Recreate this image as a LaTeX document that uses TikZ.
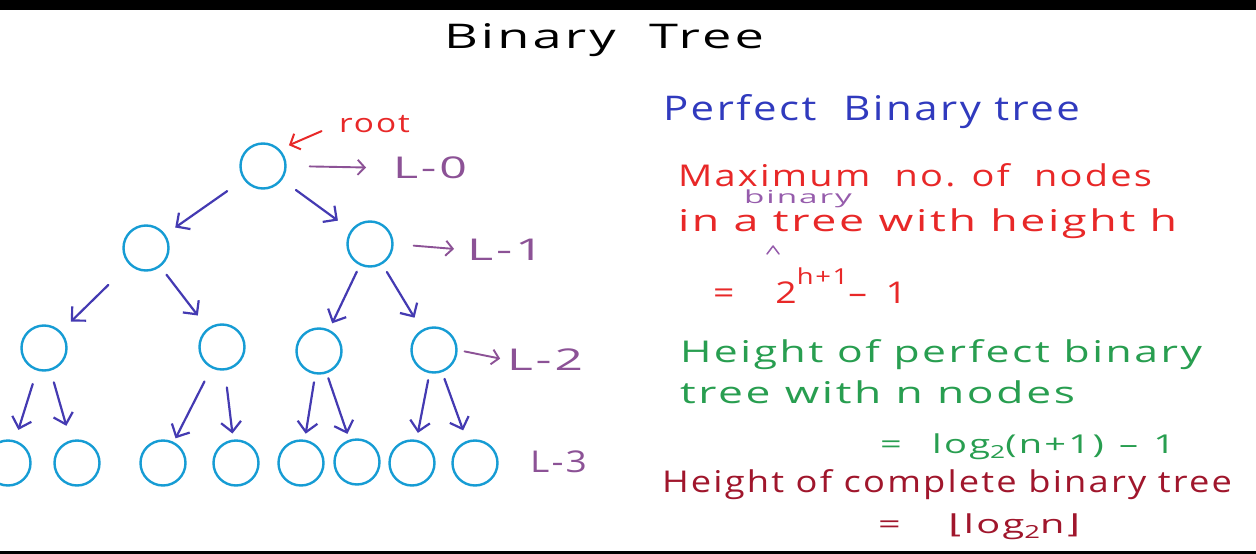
\documentclass[tikz,border=0pt]{standalone}
\usepackage{fontspec}
\setmainfont{Open Sans}[LetterSpace=6]
\newfontfamily\djv{DejaVu Sans}
\usepackage{graphicx}
\usetikzlibrary{arrows.meta}
\definecolor{treeblue}{RGB}{22,156,212}
\definecolor{edgecol}{RGB}{68,58,178}
\definecolor{lvlcol}{RGB}{140,82,150}
\definecolor{rootred}{RGB}{232,40,40}
\definecolor{pbtblue}{RGB}{48,58,190}
\definecolor{binpurple}{RGB}{150,92,172}
\definecolor{hgreen}{RGB}{40,158,80}
\definecolor{darkred}{RGB}{160,22,44}
\newsavebox\fitbox
\newcommand\fitw[2]{\sbox\fitbox{#2}\pgfmathsetmacro\fitratio{#1/\the\wd\fitbox}\scalebox{\fitratio}[1]{\usebox\fitbox}}
\newcommand\fsz[1]{\fontsize{#1}{#1}\selectfont}
\tikzset{
  tn/.style={circle, draw=treeblue, line width=2.4pt, minimum size=45pt, inner sep=0pt},
  treearrow/.style={draw=edgecol, line width=2.2pt, line cap=round, -{Straight Barb[length=10pt,width=20pt,line width=2.2pt]}},
  lvlarrow/.style={draw=lvlcol, line width=1.9pt, line cap=round, -{Straight Barb[length=7pt,width=15pt,line width=1.9pt]}},
  rootarrow/.style={draw=rootred, line width=2pt, line cap=round, -{Straight Barb[length=8pt,width=17pt,line width=2pt]}},
  txt/.style={anchor=base west, inner sep=0pt, outer sep=0pt},
  lvl/.style={anchor=west, inner sep=0pt, outer sep=0pt, text=lvlcol, font=\fsz{30}},
  sg/.style 2 args={shorten <=#1pt, shorten >=#2pt}
}
\begin{document}
\begin{tikzpicture}[x=1pt, y=-1pt]
\useasboundingbox (0,0) rectangle (1256,554);
\fill[white] (0,0) rectangle (1256,554);
\fill[black] (0,0) rectangle (1256,10);
\fill[black] (0,551) rectangle (1256,554);

% title
\node[txt, font=\fsz{34}] (title) at (444,48) {\fitw{320pt}{Binary~~Tree}};

% tree nodes
\node[tn] (r) at (263,166) {};
\node[tn] (a) at (146,248) {};
\node[tn] (b) at (370,244) {};
\node[tn] (c) at (44,348) {};
\node[tn] (d) at (222,347) {};
\node[tn] (e) at (319,351) {};
\node[tn] (f) at (434,350) {};
\node[tn] (g1) at (8,463) {};
\node[tn] (g2) at (77,463) {};
\node[tn] (g3) at (163,463) {};
\node[tn] (g4) at (236,463) {};
\node[tn] (g5) at (301,463) {};
\node[tn] (g6) at (357,462) {};
\node[tn] (g7) at (412,463) {};
\node[tn] (g8) at (475,463) {};

% tree edges
\draw[treearrow, sg={20}{12}] (r) -- (a);
\draw[treearrow, sg={17}{16}] (r) -- (b);
\draw[treearrow, sg={29}{14}] (a) -- (c);
\draw[treearrow, sg={10}{16}] (a) -- (d);
\draw[treearrow, sg={7}{7}] (b) -- (e);
\draw[treearrow, sg={9}{14}] (b) -- (f);
\draw[treearrow, sg={14}{11}] (c) -- (g1);
\draw[treearrow, sg={12}{15}] (c) -- (g2);
\draw[treearrow, sg={15}{4}] (d) -- (g3);
\draw[treearrow, sg={17}{6}] (d) -- (g4);
\draw[treearrow, sg={8}{6}] (e) -- (g5);
\draw[treearrow, sg={5}{6}] (e) -- (g6);
\draw[treearrow, sg={7}{7}] (f) -- (g7);
\draw[treearrow, sg={7}{11}] (f) -- (g8);

% root label
\node[txt, text=rootred, font=\fsz{26}] (rootlbl) at (339,132) {\fitw{71pt}{root}};
\draw[rootarrow, sg={19}{10}] (rootlbl.west) -- (r.45);

% level labels
\node[lvl] (l0) at (393,168) {\fitw{74pt}{L-0}};
\node[lvl] (l1) at (467,250) {\fitw{77pt}{L-1}};
\node[lvl] (l2) at (507,360) {\fitw{76pt}{L-2}};
\node[lvl] (l3) at (530,462) {\fitw{57pt}{L-3}};
\draw[lvlarrow, sg={23}{27}] (r.east) -- (l0.west);
\draw[lvlarrow, sg={20}{13}] (b.east) -- (l1.west);
\draw[lvlarrow, sg={7}{7}] (f.east) -- (l2.west);

% right side texts
\node[txt, text=pbtblue, font=\fsz{34}] (t1) at (663,120) {\fitw{417pt}{Perfect~ Binary tree}};
\node[txt, text=rootred, font=\fsz{30}] (t2) at (678,186) {\fitw{474pt}{Maximum~ no. of~ nodes}};
\node[txt, text=rootred, font=\fsz{30}] (t3) at (678,231) {\fitw{499pt}{in a tree with height h}};
\node[txt, text=binpurple, font=\fsz{18}] (t4) at (744,203) {\fitw{108pt}{binary}};
\draw[binpurple, line width=1.5pt, line cap=round, line join=round] (767,254) -- (773,246) -- (779,254);
\node[txt, text=rootred, font=\fsz{30}] (eq1) at (713,303)
  {\fitw{194pt}{=\hspace{1.1em}2\raisebox{19pt}{\fsz{22}h+1}–\hspace{0.5em}1}};

\node[txt, text=hgreen, font=\fsz{30}] (t6) at (680,362) {\fitw{522pt}{Height of perfect binary}};
\node[txt, text=hgreen, font=\fsz{30}] (t7) at (680,403) {\fitw{395pt}{tree with n nodes}};
\node[txt, text=hgreen, font=\fsz{26}] (eq2) at (880,453)
  {\fitw{295pt}{=\hspace{0.8em}log\raisebox{-5pt}{\fsz{18}2}(n+1)\hspace{0.4em}–\hspace{0.4em}1}};

\node[txt, text=darkred, font=\fsz{30}] (t8) at (662,492) {\fitw{570pt}{Height of complete binary tree}};
\node[txt, text=darkred, font=\fsz{26}] (eq3) at (878,533)
  {\fitw{202pt}{=\hspace{1.2em}{\djv ⌊}log\raisebox{-5pt}{\fsz{18}2}n{\djv ⌋}}};
\end{tikzpicture}
\end{document}
